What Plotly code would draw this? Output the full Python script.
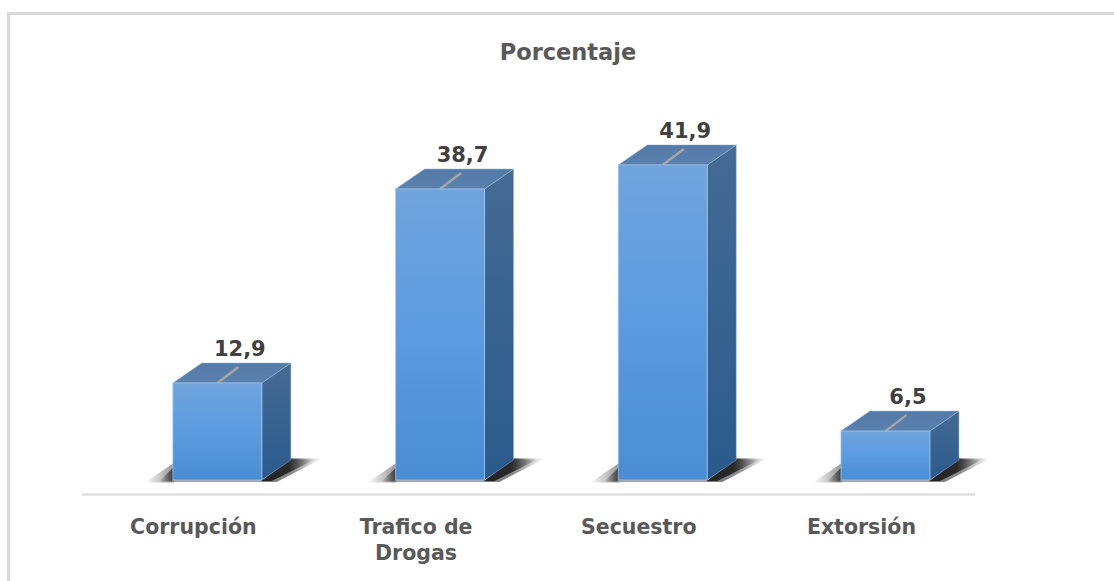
import plotly.graph_objects as go

categories = ["Corrupción", "Trafico de<br>Drogas", "Secuestro", "Extorsión"]
values = [12.9, 38.7, 41.9, 6.5]
value_labels = ["12,9", "38,7", "41,9", "6,5"]
title_text = "Porcentaje"

W, H = 1114, 581
AX_L, AX_R, AX_B, AX_T = 82, 975, 494, 100
PLOT_R = 1000                          # room for the last bar's shadow
PX_X = 222.7                           # px per category
PX_Y = 7.52                            # px per percentage point
FLOOR = 480
X_LOW = -0.5
X_HIGH = X_LOW + (PLOT_R - AX_L) / PX_X
Y_LOW = -(AX_B - FLOOR) / PX_Y
Y_HIGH = (FLOOR - AX_T) / PX_Y


def dx(p):
    return p / PX_X


def dy(p):
    return p / PX_Y


fig = go.Figure()


def poly(xs, ys, colors, kind="vertical", line=None):
    n = len(colors) - 1
    fig.add_trace(go.Scatter(
        x=xs + xs[:1], y=ys + ys[:1], mode="lines", fill="toself",
        fillgradient=dict(type=kind, colorscale=[[k / n, col] for k, col in enumerate(colors)]),
        line=dict(color=line or "rgba(0,0,0,0)", width=1),
        hoverinfo="skip", showlegend=False,
    ))


HALF = dx(44.5)
SHIFT = dx(24)
DX, DY = dx(29), dy(20)

for i, v in enumerate(values):
    c = i + SHIFT
    l, r = c - HALF, c + HALF
    # floor shadow left of the bar: soft halo and dark core
    for reach, rise, low, alpha in ((28, 17, -2.5, 0.5), (14, 13, -1.5, 0.85)):
        poly([l - dx(reach), l + dx(1), l + dx(1)], [dy(low), dy(rise), dy(low)],
             ["rgba(40,40,40,0)", f"rgba(40,40,40,{alpha})"], "horizontal")
    # strip under the front face
    fig.add_trace(go.Scatter(
        x=[l - dx(1), r, r, l - dx(1), l - dx(1)], y=[dy(-2), dy(-2), 0, 0, dy(-2)],
        mode="lines", fill="toself",
        fillcolor="rgba(140,140,140,0.8)", line=dict(color="rgba(0,0,0,0)", width=0),
        hoverinfo="skip", showlegend=False))
    # floor shadow right of the bar: soft halo and dark core
    poly([r - dx(1), r + DX, r + DX + dx(31), r + dx(15)],
         [dy(-2), DY + dy(2), DY + dy(1.5), dy(-2)],
         ["rgba(40,40,40,0.6)", "rgba(40,40,40,0.55)", "rgba(60,60,60,0)"], "horizontal")
    poly([r - dx(1), r + DX, r + DX + dx(24), r + dx(10)],
         [dy(-1), DY + dy(1), DY + dy(0.5), dy(-1)],
         ["rgba(30,30,30,0.95)", "rgba(30,30,30,0.9)", "rgba(40,40,40,0)"], "horizontal")
    # side face
    poly([r, r + DX, r + DX, r], [0, DY, v + DY, v], ["#2a5a8c", "#456b94"],
         line="rgba(150,185,220,0.4)")
    # top face
    poly([l, l + DX, r + DX, r], [v, v + DY, v + DY, v], ["#5a81ae", "#537aa8"],
         line="rgba(150,185,220,0.5)")
    # leader line
    fig.add_trace(go.Scatter(
        x=[c, c + dx(21)], y=[v, v + dy(16)], mode="lines",
        line=dict(color="#a6a6a6", width=2.5), hoverinfo="skip", showlegend=False))
    # front face
    poly([l, r, r, l], [0, 0, v, v], ["#4a8dd2", "#5b9be0", "#70a4dd"], line="rgba(170,200,235,0.7)")

fig.add_trace(go.Scatter(
    x=[i + SHIFT + dx(22.5) for i in range(len(values))],
    y=[v + dy(32.5) for v in values],
    mode="text", text=value_labels, textposition="middle center", cliponaxis=False,
    textfont=dict(family="DejaVu Sans", size=21, color="#404040", weight="bold"),
    hoverinfo="skip", showlegend=False))

fig.update_layout(
    width=W, height=H, autosize=False,
    margin=dict(l=0, r=0, t=0, b=0),
    paper_bgcolor="white", plot_bgcolor="white",
    title=dict(text=title_text, x=568 / W, y=1 - 52 / H, xanchor="center", yanchor="middle",
               xref="paper", yref="paper",
               font=dict(family="DejaVu Sans", size=22.5, color="#595959", weight="bold")),
    xaxis=dict(domain=[AX_L / W, PLOT_R / W], range=[X_LOW, X_HIGH], tickmode="array",
               tickvals=list(range(4)), ticktext=categories, ticks="", showgrid=False,
               zeroline=False, showline=False,
               ticklabelstandoff=18,
               tickfont=dict(family="DejaVu Sans", size=20.5, color="#595959", weight="bold")),
    yaxis=dict(domain=[1 - AX_B / H, 1 - AX_T / H], anchor="x",
               range=[Y_LOW, Y_HIGH],
               visible=False, showgrid=False, zeroline=False),
    shapes=[
        dict(type="line", xref="paper", yref="paper", x0=AX_L / W, x1=AX_R / W,
             y0=1 - (AX_B + 0.5) / H, y1=1 - (AX_B + 0.5) / H,
             line=dict(color="#dfdfdf", width=2.5)),
        dict(type="line", xref="paper", yref="paper", x0=8.5 / W, x1=8.5 / W, y0=0, y1=1 - 12 / H,
             line=dict(color="#dadada", width=3)),
        dict(type="line", xref="paper", yref="paper", x0=7 / W, x1=1, y0=1 - 13.5 / H, y1=1 - 13.5 / H,
             line=dict(color="#dadada", width=3)),
    ],
)

fig.write_html("out.html", config={"displayModeBar": False},
               post_script="document.body.style.margin='0';document.body.style.overflow='hidden';")
